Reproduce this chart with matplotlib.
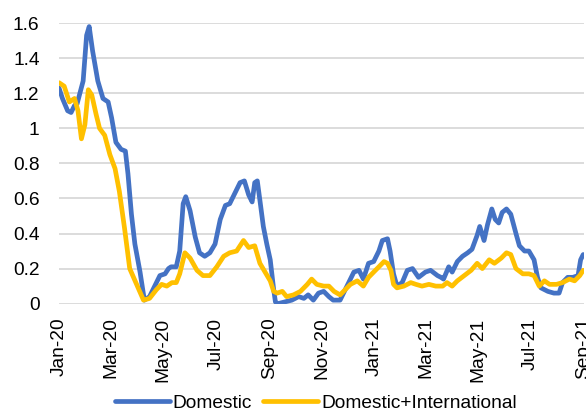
import pandas as pd
import matplotlib.pyplot as plt
import matplotlib.dates as mdates

# Days since 1 Jan 2020 and values
dom_day = [0, 4, 10, 14, 18, 21, 28, 32, 35, 39, 45, 51, 57, 61, 66, 72, 77, 80, 84, 88,
           94, 99, 105, 111, 117, 123, 127, 130, 136, 140, 144, 147, 152, 158, 163, 169,
           175, 181, 187, 193, 198, 204, 210, 215, 220, 224, 227, 230, 233, 237, 241, 245,
           249, 251, 254, 262, 270, 278, 284, 289, 295, 301, 307, 313, 318, 326, 330, 336,
           342, 348, 353, 359, 365, 371, 375, 381, 384, 388, 392, 398, 404, 410, 417, 425,
           431, 439, 443, 446, 452, 456, 462, 468, 474, 479, 485, 488, 493, 497, 502, 506,
           510, 514, 519, 524, 530, 534, 540, 545, 551, 555, 559, 567, 574, 580, 584, 590,
           596, 602, 605, 608]
dom_val = [1.23, 1.17, 1.10, 1.09, 1.13, 1.14, 1.27, 1.53, 1.58, 1.44, 1.27, 1.17, 1.15,
           1.06, 0.92, 0.88, 0.87, 0.74, 0.51, 0.34, 0.18, 0.02, 0.04, 0.10, 0.16, 0.17,
           0.20, 0.21, 0.21, 0.30, 0.57, 0.61, 0.53, 0.38, 0.29, 0.27, 0.29, 0.34, 0.48,
           0.56, 0.57, 0.63, 0.69, 0.70, 0.62, 0.58, 0.69, 0.70, 0.59, 0.44, 0.34, 0.25,
           0.08, 0.01, 0.00, 0.01, 0.02, 0.04, 0.03, 0.05, 0.02, 0.06, 0.07, 0.04, 0.02,
           0.02, 0.06, 0.12, 0.18, 0.19, 0.14, 0.23, 0.24, 0.30, 0.36, 0.37, 0.30, 0.17,
           0.10, 0.12, 0.19, 0.20, 0.15, 0.18, 0.19, 0.16, 0.15, 0.14, 0.21, 0.18, 0.24,
           0.27, 0.29, 0.31, 0.39, 0.44, 0.36, 0.45, 0.54, 0.48, 0.46, 0.52, 0.54, 0.51,
           0.40, 0.33, 0.30, 0.30, 0.25, 0.15, 0.09, 0.07, 0.06, 0.06, 0.12, 0.15, 0.15,
           0.16, 0.25, 0.28]

intl_day = [0, 6, 12, 18, 22, 26, 30, 34, 38, 43, 47, 53, 59, 65, 70, 76, 82, 90, 98,
            105, 113, 119, 125, 131, 136, 140, 146, 152, 160, 167, 175, 183, 191, 198,
            206, 214, 220, 227, 233, 239, 245, 249, 253, 259, 264, 272, 280, 288, 293,
            299, 307, 313, 319, 326, 332, 338, 346, 353, 359, 365, 371, 377, 381, 385,
            388, 392, 400, 408, 414, 421, 429, 437, 445, 450, 456, 462, 470, 478, 485,
            491, 499, 505, 513, 519, 524, 530, 538, 545, 551, 557, 563, 569, 577, 584,
            592, 598, 604, 608]
intl_val = [1.26, 1.24, 1.15, 1.17, 1.10, 0.94, 1.02, 1.22, 1.19, 1.08, 1.00, 0.96, 0.85,
            0.77, 0.64, 0.43, 0.20, 0.11, 0.02, 0.03, 0.08, 0.11, 0.10, 0.12, 0.12, 0.17,
            0.29, 0.26, 0.19, 0.16, 0.16, 0.21, 0.27, 0.29, 0.30, 0.36, 0.32, 0.33, 0.23,
            0.18, 0.13, 0.07, 0.06, 0.07, 0.04, 0.05, 0.07, 0.11, 0.14, 0.11, 0.10, 0.10,
            0.07, 0.05, 0.08, 0.11, 0.13, 0.10, 0.15, 0.18, 0.21, 0.24, 0.23, 0.19, 0.11,
            0.09, 0.10, 0.12, 0.11, 0.10, 0.11, 0.10, 0.10, 0.12, 0.10, 0.13, 0.16, 0.19,
            0.23, 0.20, 0.25, 0.23, 0.26, 0.29, 0.28, 0.20, 0.17, 0.17, 0.16, 0.10, 0.13,
            0.11, 0.11, 0.12, 0.14, 0.13, 0.16, 0.19]

start = pd.Timestamp("2020-01-01")
dom_dates = start + pd.to_timedelta(dom_day, unit="D")
intl_dates = start + pd.to_timedelta(intl_day, unit="D")

plt.rcParams["font.family"] = ["Liberation Sans", "DejaVu Sans"]

fig = plt.figure(figsize=(5.86, 4.12), dpi=100)
ax = fig.add_axes([0.1007, 0.263, 0.896, 0.681])

ax.plot(dom_dates, dom_val, color="#4472C4", linewidth=3.4, label="Domestic",
        solid_joinstyle="round", solid_capstyle="round")
ax.plot(intl_dates, intl_val, color="#FFC000", linewidth=3.4, label="Domestic+International",
        solid_joinstyle="round", solid_capstyle="round")

ax.set_ylim(0, 1.6)
ax.set_yticks([0, 0.2, 0.4, 0.6, 0.8, 1.0, 1.2, 1.4, 1.6])
ax.set_yticklabels(["0", "0.2", "0.4", "0.6", "0.8", "1", "1.2", "1.4", "1.6"])
ax.set_xlim(pd.Timestamp("2020-01-01"), pd.Timestamp("2021-09-01"))
ax.xaxis.set_major_locator(mdates.MonthLocator(bymonth=[1, 3, 5, 7, 9, 11]))
ax.xaxis.set_major_formatter(mdates.DateFormatter("%b-%y"))
plt.setp(ax.get_xticklabels(), rotation=90)

ax.grid(axis="y", color="#D9D9D9", linewidth=1.3)
ax.set_axisbelow(True)
for side in ["top", "right", "left", "bottom"]:
    ax.spines[side].set_visible(False)
ax.tick_params(axis="both", length=0, labelsize=13.8, colors="black")
ax.tick_params(axis="y", pad=14)
ax.tick_params(axis="x", pad=10)

fig.legend(loc="center", bbox_to_anchor=(0.539, 0.022), ncol=2, frameon=False,
           fontsize=13.8, handlelength=2.85, handletextpad=0.15, columnspacing=0.6,
           borderpad=0)

plt.savefig("out.png", dpi=100)
